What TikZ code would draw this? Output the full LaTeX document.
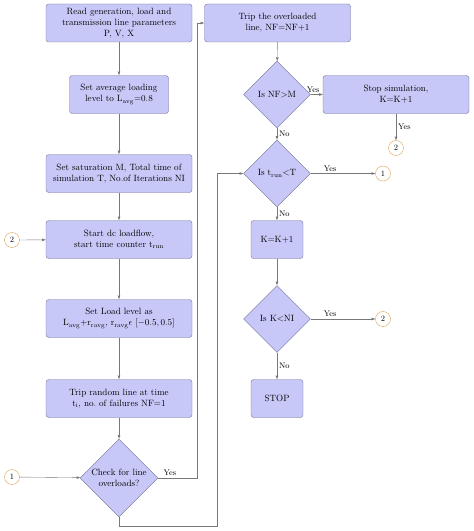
\documentclass[tikz,border=0pt]{standalone}
\usepackage{amsmath}
\usepackage{amssymb}
\usetikzlibrary{shapes.geometric}

\definecolor{boxfill}{RGB}{200,200,248}
\definecolor{boxline}{RGB}{110,110,150}
\definecolor{flowline}{RGB}{120,120,120}
\definecolor{connline}{RGB}{215,150,60}

\tikzset{
  block/.style={draw=boxline, fill=boxfill, rounded corners=3pt, align=center, minimum height=41.8pt, inner sep=2pt},
  wideblock/.style={block, minimum width=160.6pt},
  smallblock/.style={block, minimum width=57.2pt},
  decision/.style={draw=boxline, fill=boxfill, diamond, aspect=1, align=center, inner sep=0pt},
  conn/.style={draw=connline, fill=white, circle, minimum size=16.5pt, inner sep=0pt, font=\small},
  flow/.style={->, draw=flowline},
  lbl/.style={font=\small, inner sep=2pt}
}

\begin{document}
\begin{tikzpicture}[>=latex, x=1.1pt, y=-1.1pt]
    \useasboundingbox (0,0) rectangle (474,531);

    % left column
    \node [wideblock] (read) at (119,23) {Read generation, load and\\ transmission line parameters\\ P, V, X};
    \node [block, minimum width=108.9pt] (avg) at (119,94.5) {Set average loading\\ level to L$_{\rm avg}$=0.8};
    \node [wideblock] (sat) at (119,173.5) {Set saturation M, Total time of\\ simulation T, No.of Iterations NI};
    \node [wideblock] (start) at (119,239.5) {Start dc loadflow,\\ start time counter t$_{\rm run}$};
    \node [wideblock] (load) at (119,318.5) {Set Load level as\\ L$_{\rm avg}$+r$_{\rm ravg}$, r$_{\rm ravg}$$\epsilon$ [$-0.5,0.5$]};
    \node [wideblock] (tripr) at (119,398.5) {Trip random line at time\\ t$_{\rm i}$, no.\ of failures NF=1};
    \node [decision, minimum size=85.8pt] (check) at (119,478) {Check for line\\ overloads?};
    \node [conn] (c2a) at (12,240) {2};
    \node [conn] (c1a) at (12,477) {1};

    % right column
    \node [wideblock] (trip) at (277.5,23) {Trip the overloaded\\ line, NF=NF+1};
    \node [decision, minimum size=73.7pt] (nfm) at (277,94.5) {Is NF>M};
    \node [wideblock] (stopsim) at (396,94.5) {Stop simulation,\\ K=K+1};
    \node [conn] (c2b) at (396,148) {2};
    \node [decision, minimum size=73.7pt] (trun) at (277,173.5) {Is t$_{\rm run}$<T};
    \node [conn] (c1b) at (383,173.5) {1};
    \node [smallblock] (kinc) at (277,239.5) {K=K+1};
    \node [decision, minimum size=73.7pt] (kni) at (277,319) {Is K<NI};
    \node [conn] (c2c) at (383,319) {2};
    \node [smallblock] (stop) at (277,398.5) {STOP};

    \coordinate (yesup) at (197,478);
    \coordinate (loopb) at (217,526);

    \draw [flow] (read) -- (avg);
    \draw [flow] (avg) -- (sat);
    \draw [flow] (sat) -- (start);
    \draw [flow] (start) -- (load);
    \draw [flow] (load) -- (tripr);
    \draw [flow] (tripr) -- (check);
    \draw [flow] (c2a) -- (start);
    \draw [flow] (c1a) -- (check);
    \draw [flow] (check.east) -- node[lbl, above, pos=0.3]{Yes} (yesup) |- (trip.west);
    \draw [flow] (check.south) |- (loopb) |- (trun.west);

    \draw [flow] (trip) -- (nfm);
    \draw [flow] (nfm) -- node[lbl, right]{No} (trun);
    \draw [flow] (nfm) -- node[lbl, above, pos=0.2]{Yes} (stopsim);
    \draw [flow] (stopsim) -- node[lbl, right]{Yes} (c2b);
    \draw [flow] (trun) -- node[lbl, above, pos=0.3]{Yes} (c1b);
    \draw [flow] (trun) -- node[lbl, right]{No} (kinc);
    \draw [flow] (kinc) -- (kni);
    \draw [flow] (kni) -- node[lbl, above, pos=0.3]{Yes} (c2c);
    \draw [flow] (kni) -- node[lbl, right]{No} (stop);
\end{tikzpicture}
\end{document}
